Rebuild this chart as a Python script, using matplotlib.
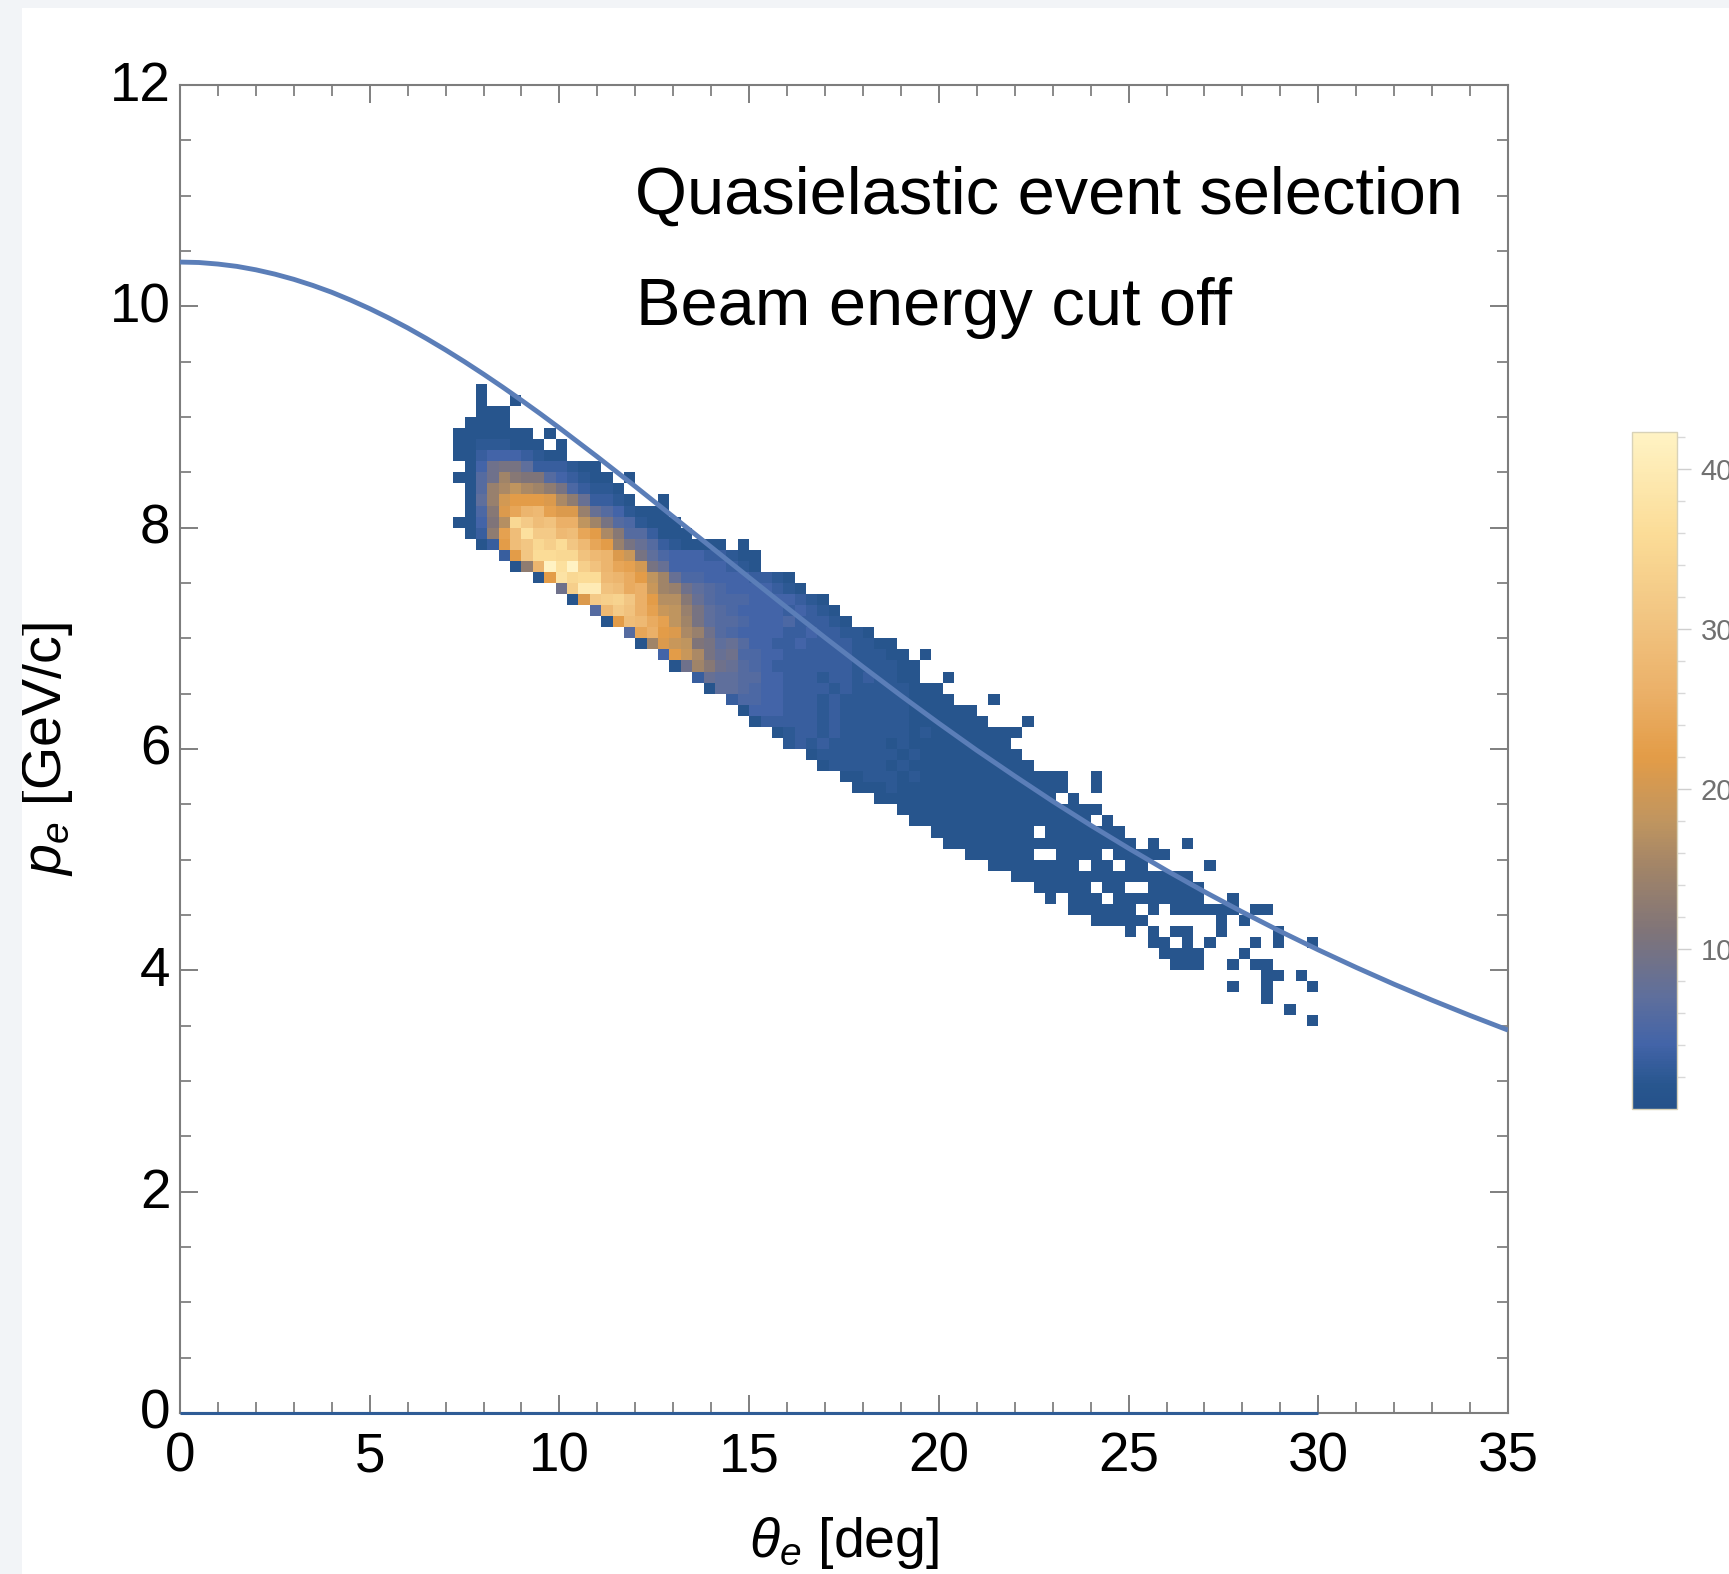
import numpy as np
import matplotlib
matplotlib.use("Agg")
import matplotlib.pyplot as plt
from matplotlib.colors import LinearSegmentedColormap, Normalize
from matplotlib.cm import ScalarMappable
from matplotlib.patches import Rectangle
from matplotlib.ticker import MultipleLocator
from matplotlib.transforms import ScaledTranslation

plt.rcParams['font.family'] = ['Liberation Sans', 'DejaVu Sans']
plt.rcParams['mathtext.fontset'] = 'custom'
plt.rcParams['mathtext.rm'] = 'Liberation Sans'
plt.rcParams['mathtext.it'] = 'Liberation Sans:italic'

# histogram cells: row number (pe bin, 0.1 GeV/c) -> (first theta bin of 0.3 deg, counts)
r93 = [(26, [1])]
r92 = [(26, [1]), (29, [1])]
r91 = [(26, [1, 1, 1])]
r90 = [(25, [1, 1, 1, 1])]
r89 = [(24, [1, 1, 1, 1, 1, 1, 1]), (32, [1])]
r88 = [(24, [1, 1, 2, 2, 2, 1, 1, 1]), (33, [1])]
r87 = [(24, [1, 1, 3, 4, 4, 4, 3, 2, 1, 1])]
r86 = [(25, [1, 4, 9, 10, 10, 7, 3, 3, 3, 2, 1, 1])]
r85 = [(24, [1, 1, 6, 9, 15, 12, 11, 11, 6, 4, 3, 2, 1, 1]), (39, [1])]
r84 = [(25, [1, 6, 14, 16, 18, 16, 15, 13, 10, 5, 3, 2, 2, 1])]
r83 = [(25, [1, 7, 14, 20, 22, 22, 22, 21, 16, 13, 8, 3, 3, 2, 1]), (42, [1])]
r82 = [(25, [1, 5, 12, 21, 24, 27, 28, 23, 21, 21, 14, 8, 6, 4, 2, 1, 1, 1])]
r81 = [(24, [1, 1, 4, 11, 17, 35, 32, 29, 30, 26, 26, 18, 15, 10, 6, 5, 2, 1, 1, 1])]
r80 = [(25, [1, 3, 13, 23, 29, 37, 32, 32, 28, 29, 24, 22, 16, 12, 6, 6, 3, 1, 1, 1])]
r79 = [(26, [1, 3, 22, 29, 31, 35, 33, 36, 31, 28, 24, 22, 14, 10, 8, 6, 3, 2, 1, 1, 1, 1]), (49, [1])]
r78 = [(28, [3, 22, 31, 36, 36, 35, 35, 30, 28, 27, 21, 19, 10, 7, 5, 4, 4, 4, 3, 3, 2, 1, 1])]
r77 = [(29, [1, 13, 27, 42, 37, 42, 33, 30, 27, 24, 23, 20, 10, 8, 4, 4, 4, 4, 4, 3, 2, 1])]
r76 = [(31, [1, 22, 38, 35, 36, 36, 28, 27, 25, 22, 18, 15, 8, 5, 5, 4, 4, 4, 4, 3, 3, 2, 1])]
r75 = [(33, [9, 33, 40, 40, 30, 29, 25, 26, 19, 15, 14, 9, 7, 6, 5, 4, 4, 4, 4, 3, 2, 1])]
r74 = [(34, [1, 21, 32, 33, 34, 31, 26, 22, 17, 17, 12, 8, 6, 5, 5, 5, 4, 4, 4, 4, 3, 2, 1])]
r73 = [(36, [6, 28, 32, 30, 26, 23, 19, 18, 14, 10, 7, 6, 5, 4, 4, 4, 4, 3, 4, 3, 2, 1])]
r72 = [(37, [1, 22, 29, 28, 25, 23, 18, 15, 10, 7, 6, 6, 5, 4, 4, 4, 5, 3, 3, 3, 2, 1])]
r71 = [(39, [6, 24, 26, 22, 21, 16, 14, 9, 6, 5, 4, 4, 4, 4, 3, 3, 4, 3, 3, 2, 2, 1])]
r70 = [(40, [1, 15, 21, 19, 18, 11, 10, 7, 8, 6, 4, 4, 3, 3, 4, 3, 3, 3, 3, 2, 2, 1, 1])]
r69 = [(42, [4, 22, 19, 16, 10, 8, 9, 5, 5, 4, 4, 3, 3, 3, 3, 3, 3, 2, 2, 2, 1, 1]), (65, [1])]
r68 = [(43, [1, 9, 15, 12, 9, 8, 6, 5, 4, 3, 3, 3, 3, 3, 3, 3, 2, 2, 2, 2, 1, 1])]
r67 = [(45, [3, 8, 7, 7, 6, 6, 4, 4, 3, 3, 3, 2, 3, 3, 2, 3, 2, 2, 1, 1]), (67, [1])]
r66 = [(46, [1, 7, 7, 6, 5, 4, 4, 3, 3, 3, 3, 2, 3, 2, 2, 2, 2, 2, 1, 1, 1])]
r65 = [(48, [3, 5, 5, 4, 4, 3, 3, 3, 2, 3, 2, 2, 2, 2, 2, 2, 1, 1, 1, 1]), (71, [1])]
r64 = [(49, [1, 4, 4, 4, 3, 3, 3, 2, 3, 2, 2, 2, 2, 2, 2, 1, 1, 1, 1, 1, 1])]
r63 = [(50, [1, 3, 3, 3, 3, 3, 2, 3, 2, 2, 2, 2, 2, 2, 1, 1, 1, 1, 1, 1, 1]), (74, [1])]
r62 = [(52, [1, 2, 3, 3, 2, 3, 2, 2, 2, 2, 2, 2, 1, 2, 1, 1, 1, 1, 1, 1, 1, 1])]
r61 = [(53, [2, 3, 2, 3, 2, 2, 2, 2, 2, 1, 2, 1, 1, 1, 1, 1, 1, 1, 1, 1])]
r60 = [(55, [1, 2, 2, 2, 2, 2, 2, 2, 1, 2, 1, 1, 1, 1, 1, 1, 1, 1, 1])]
r59 = [(56, [1, 2, 2, 2, 2, 2, 1, 2, 1, 1, 1, 1, 1, 1, 1, 1, 1, 1, 1])]
r58 = [(58, [1, 1, 2, 2, 2, 1, 2, 1, 1, 1, 1, 1, 1, 1, 1, 1, 1, 1, 1, 1]), (80, [1])]
r57 = [(59, [1, 1, 1, 2, 1, 1, 1, 1, 1, 1, 1, 1, 1, 1, 1, 1, 1, 1, 1]), (80, [1])]
r56 = [(61, [1, 1, 1, 1, 1, 1, 1, 1, 1, 1, 1, 1, 1, 1, 1, 1]), (78, [1])]
r55 = [(63, [1, 1, 1, 1, 1, 1, 1, 1, 1, 1, 1, 1, 1, 1, 1, 1, 1, 1])]
r54 = [(64, [1, 1, 1, 1, 1, 1, 1, 1, 1, 1, 1, 1, 1, 1, 1, 1]), (81, [1])]
r53 = [(66, [1, 1, 1, 1, 1, 1, 1, 1, 1]), (76, [1, 1, 1, 1, 1, 1, 1])]
r52 = [(67, [1, 1, 1, 1, 1, 1, 1, 1, 1, 1, 1, 1, 1, 1, 1, 1, 1]), (85, [1]), (88, [1])]
r51 = [(69, [1, 1, 1, 1, 1, 1]), (77, [1, 1, 1, 1]), (82, [1, 1, 1, 1, 1])]
r50 = [(71, [1, 1, 1, 1, 1, 1, 1, 1]), (80, [1, 1]), (83, [1, 1]), (90, [1])]
r49 = [(73, [1, 1, 1, 1, 1, 1, 1, 1, 1, 1, 1, 1, 1, 1, 1, 1])]
r48 = [(75, [1, 1, 1, 1, 1]), (81, [1, 1]), (85, [1, 1, 1, 1, 1])]
r47 = [(76, [1]), (78, [1, 1, 1]), (82, [1, 1, 1, 1, 1, 1, 1, 1]), (92, [1])]
r46 = [(78, [1, 1, 1, 1, 1, 1]), (85, [1]), (87, [1, 1, 1, 1, 1, 1]), (94, [1, 1])]
r45 = [(80, [1, 1, 1, 1, 1]), (91, [1]), (93, [1])]
r44 = [(83, [1]), (85, [1]), (87, [1, 1]), (91, [1]), (96, [1])]
r43 = [(85, [1, 1]), (88, [1]), (90, [1]), (94, [1]), (96, [1]), (99, [1])]
r42 = [(86, [1, 1, 1, 1]), (93, [1])]
r41 = [(87, [1, 1, 1]), (92, [1]), (94, [1, 1])]
r40 = [(95, [1, 1]), (98, [1])]
r39 = [(92, [1]), (95, [1]), (99, [1])]
r38 = [(95, [1])]
r37 = [(97, [1])]
r36 = [(99, [1])]

rows = [r36, r37, r38, r39, r40, r41, r42, r43, r44, r45, r46, r47, r48, r49, r50,
        r51, r52, r53, r54, r55, r56, r57, r58, r59, r60, r61, r62, r63, r64, r65,
        r66, r67, r68, r69, r70, r71, r72, r73, r74, r75, r76, r77, r78, r79, r80,
        r81, r82, r83, r84, r85, r86, r87, r88, r89, r90, r91, r92, r93]
first_row = 35

# beam energy cut-off curve values
curve_theta = [0, 0.5, 1, 1.5, 2, 2.5, 3, 3.5, 4, 4.5, 5, 5.5, 6, 6.5, 7, 7.5, 8, 8.5, 9, 9.5, 10,
               11, 12, 13, 14, 15, 16, 17, 18, 19, 20, 21, 22, 23, 24, 25, 26, 27, 28, 29, 30,
               31, 32, 33, 34, 35]
curve_p = [10.400, 10.396, 10.382, 10.361, 10.330, 10.291, 10.244, 10.189, 10.127, 10.056, 9.979,
           9.895, 9.805, 9.708, 9.606, 9.499, 9.387, 9.271, 9.151, 9.028, 8.901,
           8.640, 8.372, 8.098, 7.824, 7.549, 7.276, 7.006, 6.742, 6.483, 6.232, 5.988, 5.755,
           5.528, 5.311, 5.103, 4.902, 4.710, 4.527, 4.352, 4.185, 4.026, 3.874, 3.730, 3.592, 3.460]
base_theta = [0, 30]
base_p = [0, 0]

cmap_values = [0, 1.5, 4, 7, 11, 15, 18, 22, 26, 31, 36, 42.3]
cmap_colors = ['#25528a', '#28568f', '#4364a8', '#5f6f9c', '#7f7479', '#a18468', '#c0955f',
               '#e39c47', '#ebb068', '#f2c683', '#fbdc97', '#fff3c4']
vmin, vmax = 0, 42.3

W, H = 1729, 1574
fig = plt.figure(figsize=(W / 100, H / 100), dpi=100, facecolor='white')
fig.add_artist(Rectangle((0, 0), 22 / W, 1, transform=fig.transFigure, fc='#f2f4f7', ec='none'))
fig.add_artist(Rectangle((0, 1 - 8 / H), 1, 8 / H, transform=fig.transFigure, fc='#f2f4f7', ec='none'))

ax = fig.add_axes([180 / W, 1 - 1413 / H, 1328 / W, 1328 / H])
cmap = LinearSegmentedColormap.from_list(
    'heat', [((v - vmin) / (vmax - vmin), c) for v, c in zip(cmap_values, cmap_colors)])
norm = Normalize(vmin, vmax)

Z = np.full((120, 100), np.nan)
for k, row in enumerate(rows):
    for start, vals in row:
        Z[first_row + k, start:start + len(vals)] = vals
xedges = np.linspace(0, 30, 101)
yedges = np.linspace(0, 12, 121)
ax.pcolormesh(xedges, yedges, np.ma.masked_invalid(Z), cmap=cmap, norm=norm,
              shading='flat', edgecolors='none', antialiased=False, zorder=1)

ax.plot(curve_theta, curve_p, color='#5b7eb8', lw=3.5, zorder=3, solid_capstyle='butt')
ax.plot(base_theta, base_p, color='#2f5c96', lw=2.2, zorder=4, clip_on=False, solid_capstyle='butt')

ax.set_xlim(0, 35)
ax.set_ylim(0, 12)
ax.xaxis.set_major_locator(MultipleLocator(5))
ax.xaxis.set_minor_locator(MultipleLocator(1))
ax.yaxis.set_major_locator(MultipleLocator(2))
ax.yaxis.set_minor_locator(MultipleLocator(0.5))
tc = '#6a6a6a'
ax.tick_params(which='major', direction='in', top=True, right=True, length=13, width=1.2, color=tc,
               labelsize=39.5, labelcolor='black')
ax.tick_params(which='minor', direction='in', top=True, right=True, length=8, width=1.1, color=tc)
ax.tick_params(axis='x', which='major', pad=13)
ax.tick_params(axis='y', which='major', pad=7)
for lab in ax.get_yticklabels():
    lab.set_transform(lab.get_transform() + ScaledTranslation(0, 3 / 72, fig.dpi_scale_trans))
for s in ax.spines.values():
    s.set_color('#7d7d7d')
    s.set_linewidth(1.5)

ax.set_xlabel(r'$\theta_e$ [deg]', fontsize=40)
ax.xaxis.set_label_coords(0.5, -0.077)
ax.xaxis.label.set_va('top')
ax.set_ylabel(r'$p_e$ [GeV/c]', fontsize=40)
ax.yaxis.set_label_coords(-0.079, 0.5)

ax.text(12.0, 10.84, 'Quasielastic event selection', fontsize=48.1, va='baseline', ha='left')
ax.text(12.02, 9.83, 'Beam energy cut off', fontsize=48.1, va='baseline', ha='left')

cax = fig.add_axes([1632 / W, 1 - 1109 / H, 45 / W, 677 / H])
cb = fig.colorbar(ScalarMappable(norm=norm, cmap=cmap), cax=cax)
cb.set_ticks([10, 20, 30, 40])
cb.set_ticks([2 * i for i in range(1, 22)], minor=True)
cb.ax.tick_params(which='major', length=10, width=1.0, color='#cfcfcf', labelsize=21,
                  labelcolor='#707070', pad=7)
cb.ax.tick_params(which='minor', length=6, width=1.0, color='#d8d8d8')
cb.outline.set_edgecolor('#d8d2b8')
cb.outline.set_linewidth(1.0)

fig.savefig('out.png', dpi=100, facecolor=fig.get_facecolor())
